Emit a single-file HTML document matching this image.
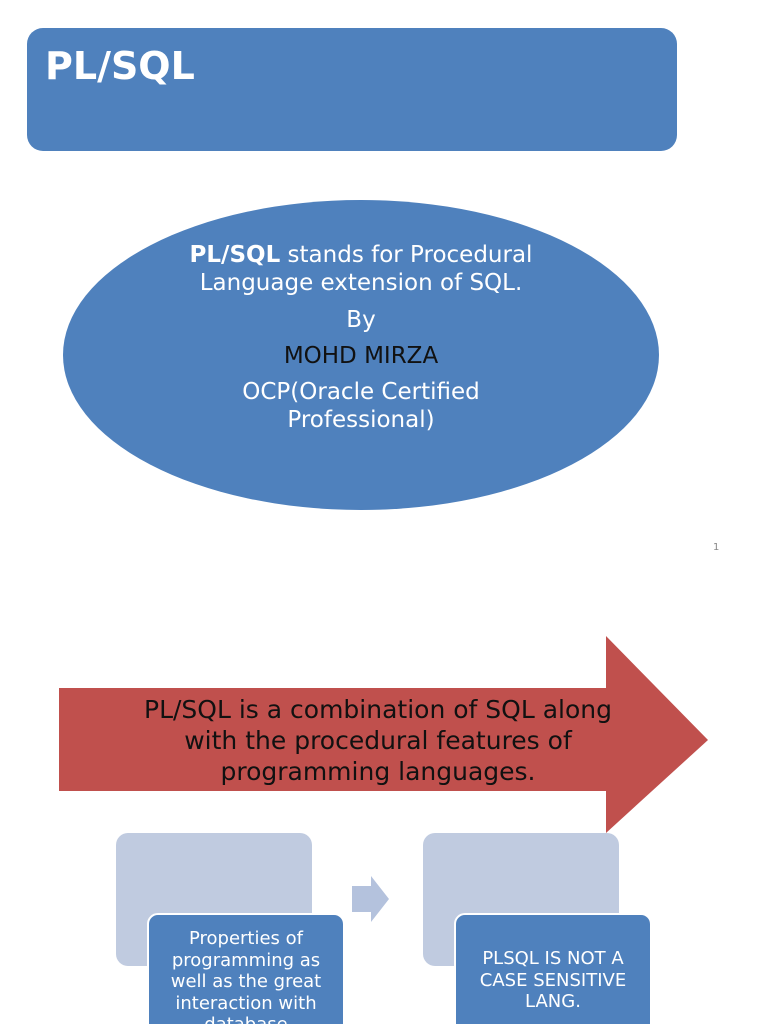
<!DOCTYPE html>
<html><head><style>
body{margin:0;width:768px;height:1024px;background:#fff;position:relative;overflow:hidden;font-family:"DejaVu Sans","Liberation Sans",sans-serif}
.a{position:absolute}
.t{position:absolute;text-align:center;white-space:nowrap}
</style></head><body>
<div class="a" style="left:27px;top:28px;width:650px;height:123px;background:#4F81BD;border-radius:16px"></div>
<div class="a" style="left:45px;top:44px;color:#fff;font-weight:bold;font-size:38px">PL/SQL</div>
<div class="a" style="left:63px;top:200px;width:596px;height:310px;background:#4F81BD;border-radius:50%"></div>
<div class="t" style="left:61px;width:600px;top:241px;color:#fff;font-size:23px;line-height:28px">
<b>PL/SQL</b> stands for Procedural<br>Language extension of SQL.
<div style="margin-top:9px">By</div>
<div style="margin-top:8px;color:#111">MOHD MIRZA</div>
<div style="margin-top:8px">OCP(Oracle Certified<br>Professional)</div>
</div>
<div class="a" style="left:713px;top:542px;font-size:10px;color:#888">1</div>
<svg class="a" style="left:0;top:0" width="768" height="1024">
<polygon points="59,688 606,688 606,636 708,740 606,833 606,791 59,791" fill="#C0504D"/>
<rect x="116" y="833" width="196" height="133" rx="12" fill="#C0CBE0"/>
<rect x="423" y="833" width="196" height="133" rx="12" fill="#C0CBE0"/>
<polygon points="352,886 371,886 371,876 389,899 371,922 371,912 352,912" fill="#B4C2DD"/>
<rect x="148" y="914" width="196" height="130" rx="10" fill="#4F81BD" stroke="#fff" stroke-width="2"/>
<rect x="455" y="914" width="196" height="130" rx="10" fill="#4F81BD" stroke="#fff" stroke-width="2"/>
</svg>
<div class="t" style="left:59px;width:638px;top:694px;font-size:25px;line-height:31px;color:#111">PL/SQL is a combination of SQL along<br>with the procedural features of<br>programming languages.</div>
<div class="t" style="left:148px;width:196px;top:928px;font-size:18px;line-height:21.5px;color:#fff">Properties of<br>programming as<br>well as the great<br>interaction with<br>database</div>
<div class="t" style="left:455px;width:196px;top:948px;font-size:18px;line-height:21.5px;color:#fff">PLSQL IS NOT A<br>CASE SENSITIVE<br>LANG.</div>
</body></html>
